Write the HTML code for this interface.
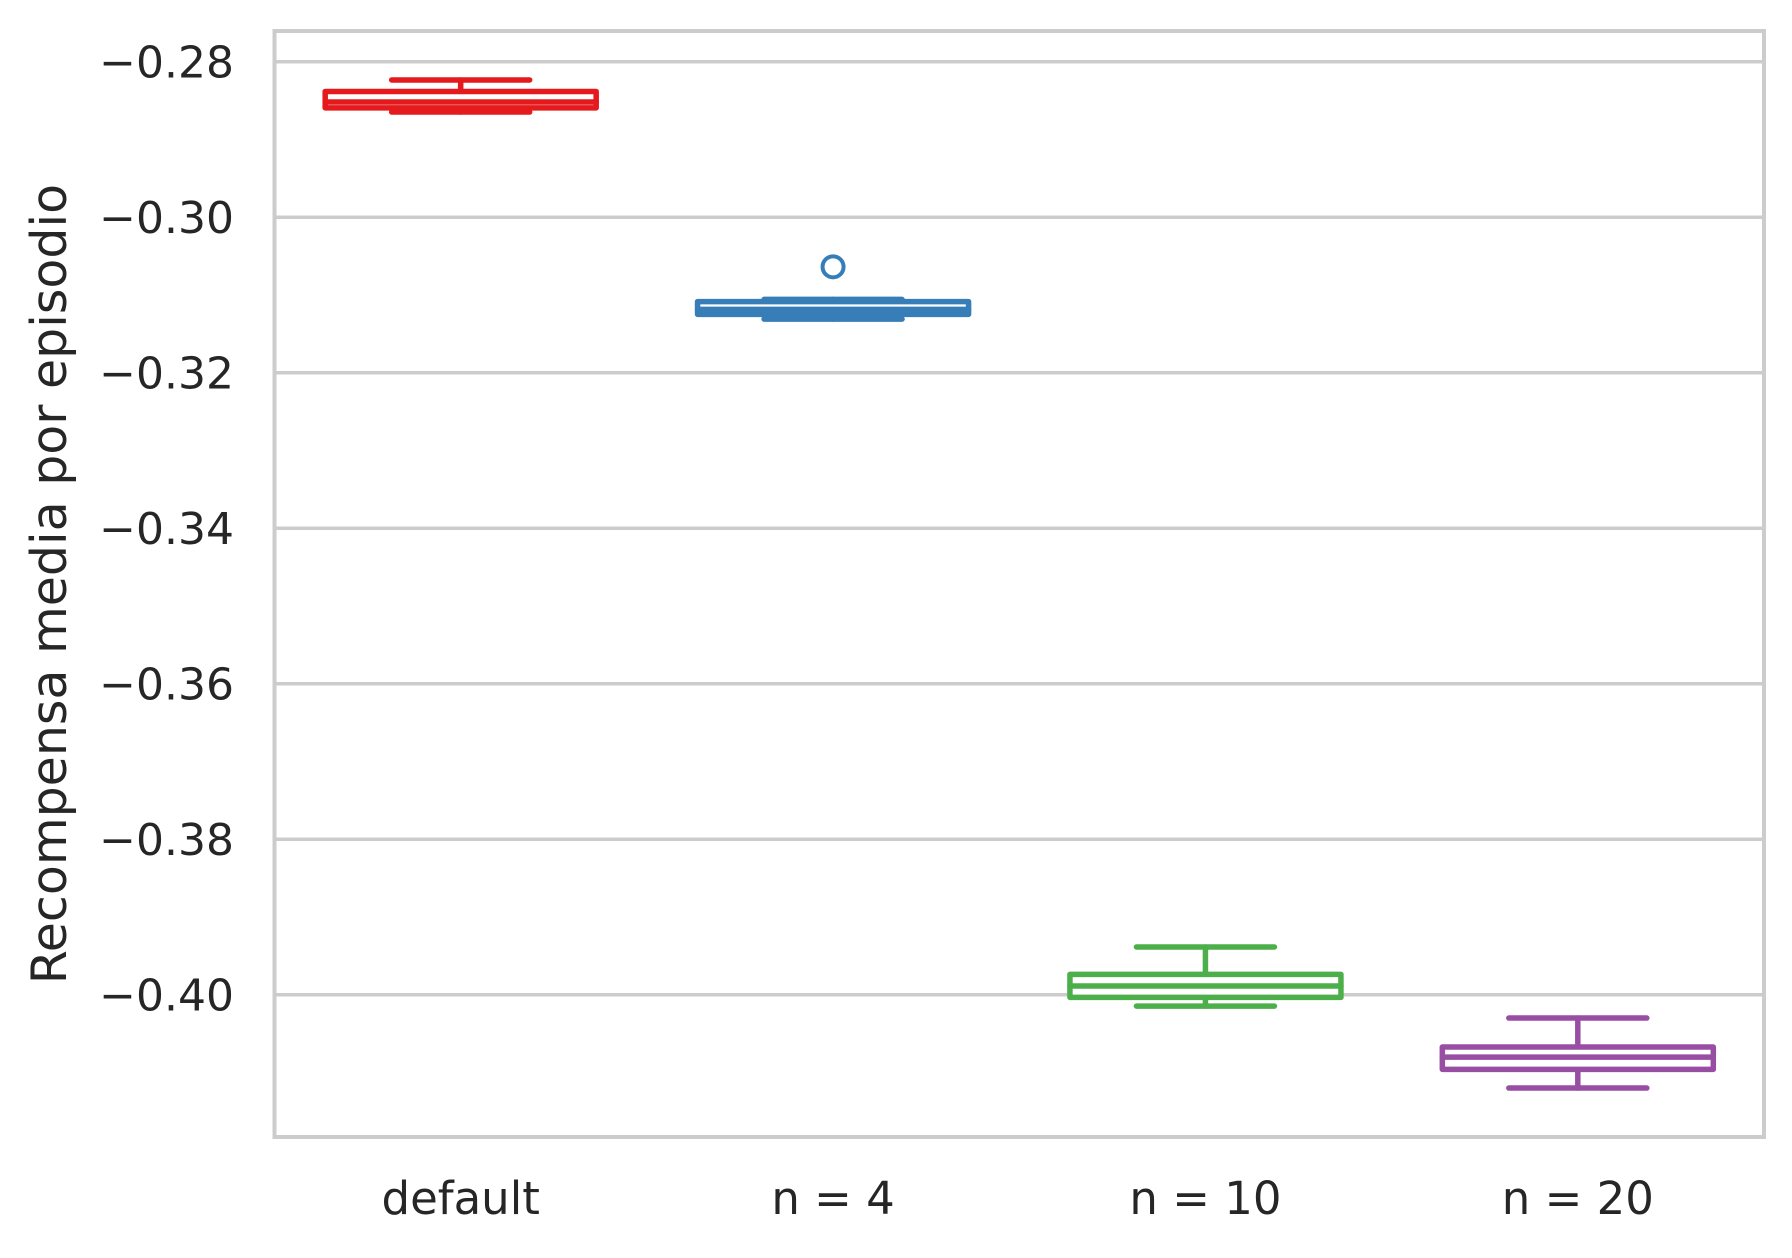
<!DOCTYPE html>
<html><head><meta charset="utf-8"><style>
html,body{margin:0;padding:0;background:#fff;}
svg text{font-family:"DejaVu Sans","Liberation Sans",sans-serif;fill:#262626;}
</style></head><body>
<svg id="chart" width="1792" height="1253" viewBox="0 0 1792 1253" xmlns="http://www.w3.org/2000/svg">
<g id="grid"></g>
<g id="yticks"></g>
<g id="xticks"></g>
<g id="boxes"></g>
<rect x="274.5" y="31" width="1489.5" height="1106" fill="none" stroke="#cccccc" stroke-width="4"/>
<text transform="translate(66,584) rotate(-90)" text-anchor="middle" font-size="49">Recompensa media por episodio</text>
</svg>
<script>
const categories = ["default", "n = 4", "n = 10", "n = 20"];
const colors = ["#e41a1c", "#377eb8", "#4daf4a", "#984ea3"];
const whiskerHigh = [-0.28235, -0.31057, -0.39386, -0.40300];
const q3Values = [-0.28383, -0.31085, -0.39738, -0.40673];
const medians = [-0.28518, -0.31186, -0.39888, -0.40802];
const q1Values = [-0.28593, -0.31249, -0.40034, -0.40960];
const whiskerLow = [-0.28647, -0.31310, -0.40146, -0.41200];
const outliers = [[], [-0.30638], [], []];
const yTicks = [-0.28, -0.30, -0.32, -0.34, -0.36, -0.38, -0.40];
const yTickLabels = ["\u22120.28", "\u22120.30", "\u22120.32", "\u22120.34", "\u22120.36", "\u22120.38", "\u22120.40"];

const NS = "http://www.w3.org/2000/svg";
const L = 274.5, R = 1764, T = 31, B = 1137;
const yMax = -0.27605, yMin = -0.4183;
function y(v){ return T + (yMax - v) / (yMax - yMin) * (B - T); }
const band = (R - L) / categories.length;
function xc(i){ return L + band * (i + 0.5); }
function mk(tag, attrs, parent){
  const e = document.createElementNS(NS, tag);
  for (const k in attrs) e.setAttribute(k, attrs[k]);
  parent.appendChild(e); return e;
}
const grid = document.getElementById('grid');
const yt = document.getElementById('yticks');
yTicks.forEach((v, i) => {
  const ln = mk('line', {x1: L, x2: R, y1: y(v), y2: y(v), stroke: '#cccccc', 'stroke-width': 3.5}, grid);
  
  
  const t = mk('text', {x: 234, y: y(v) + 16, 'text-anchor': 'end', 'font-size': 44}, yt);
  
  
  t.textContent = yTickLabels[i];
});
const xt = document.getElementById('xticks');
const bx = document.getElementById('boxes');
const boxW = 271, capW = 138, sw = 5.5;
categories.forEach((c, i) => {
  const t = mk('text', {x: xc(i), y: 1214, 'text-anchor': 'middle', 'font-size': 45}, xt);
  
  
  t.textContent = c;
  const g = mk('g', {stroke: colors[i], 'stroke-width': sw, fill: 'none', 'stroke-linecap': 'round', 'stroke-linejoin': 'round'}, bx);
  
  
  const x = xc(i);
  mk('line', {x1: x, x2: x, y1: y(whiskerHigh[i]), y2: y(q3Values[i])}, g);
  mk('line', {x1: x, x2: x, y1: y(q1Values[i]), y2: y(whiskerLow[i])}, g);
  mk('line', {x1: x - capW/2, x2: x + capW/2, y1: y(whiskerHigh[i]), y2: y(whiskerHigh[i])}, g);
  mk('line', {x1: x - capW/2, x2: x + capW/2, y1: y(whiskerLow[i]), y2: y(whiskerLow[i])}, g);
  mk('rect', {x: x - boxW/2, y: y(q3Values[i]), width: boxW, height: y(q1Values[i]) - y(q3Values[i]), fill: '#fff'}, g);
  mk('line', {x1: x - boxW/2, x2: x + boxW/2, y1: y(medians[i]), y2: y(medians[i])}, g);
  outliers[i].forEach(o => {
    const ci = mk('circle', {cx: x, cy: y(o), r: 10.5, 'stroke-width': 4}, g);
    
    
  });
});
</script>
</body></html>
